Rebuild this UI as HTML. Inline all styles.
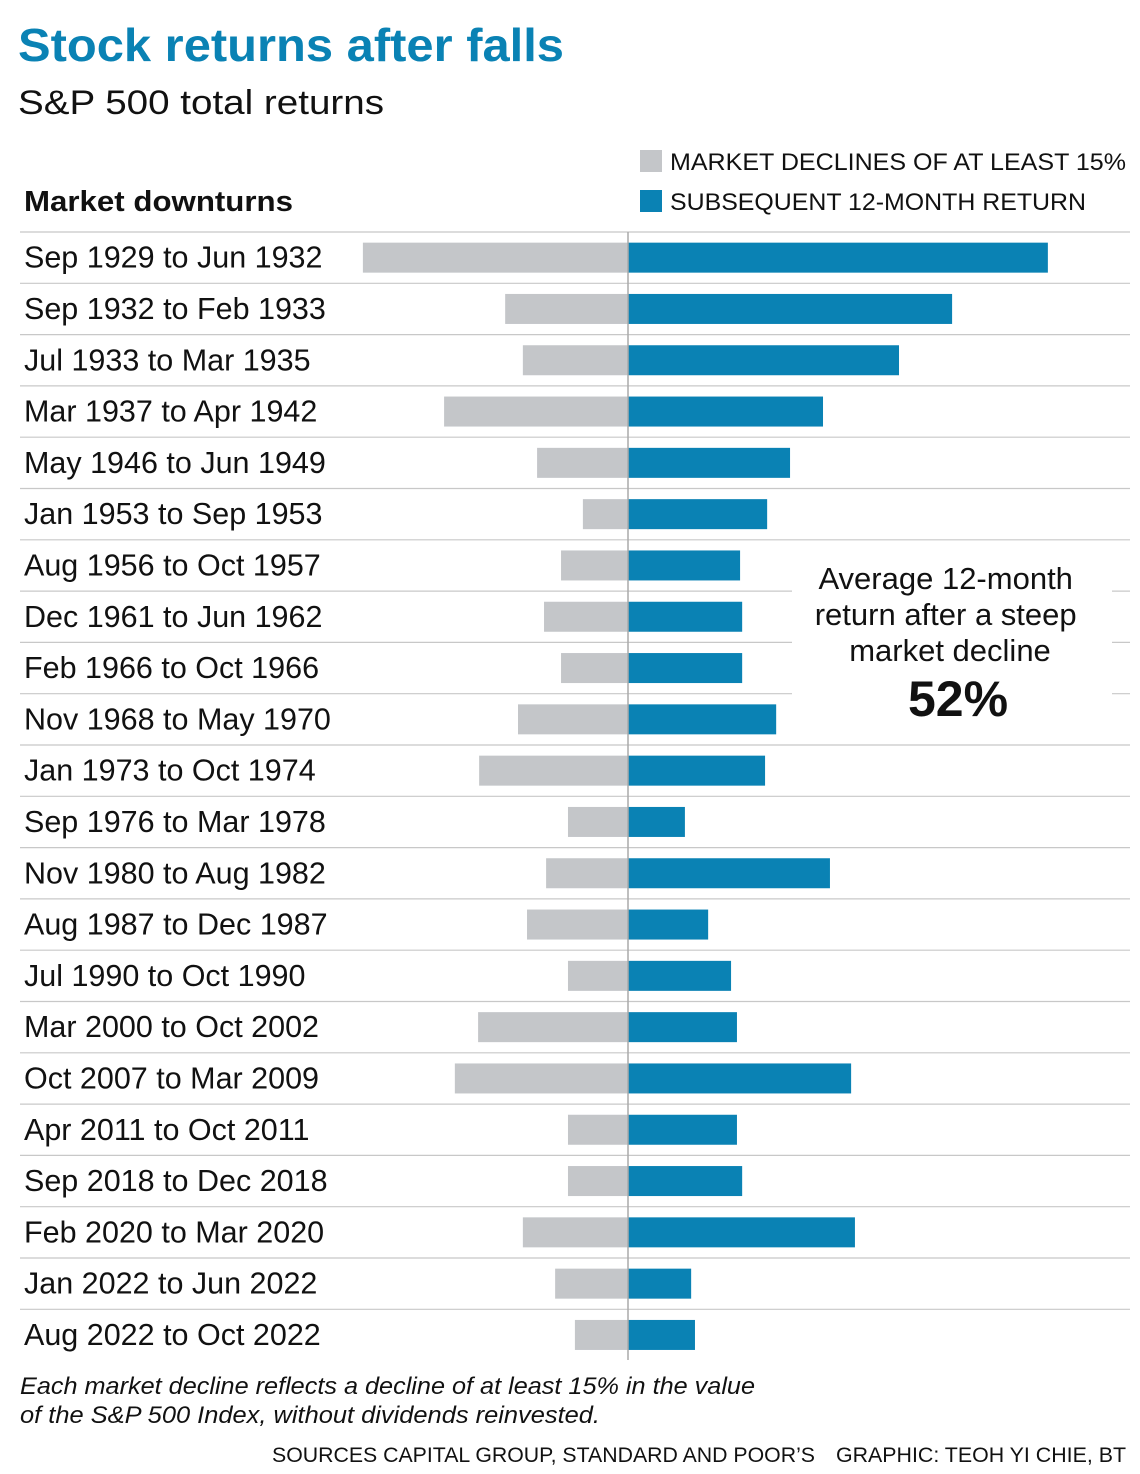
<!DOCTYPE html>
<html><head><meta charset="utf-8"><style>
html,body{margin:0;padding:0;background:#fff;}
svg{display:block;font-family:"Liberation Sans",sans-serif;}
</style></head><body>
<svg id="chart" width="1140" height="1474" viewBox="0 0 1140 1474" xmlns="http://www.w3.org/2000/svg">
<text x="18" y="61" font-size="46" font-weight="bold" fill="#0a82b4" textLength="546" lengthAdjust="spacingAndGlyphs">Stock returns after falls</text>
<text x="18" y="114" font-size="34" fill="#111" textLength="366" lengthAdjust="spacingAndGlyphs">S&amp;P 500 total returns</text>
<text x="24" y="211" font-size="29" font-weight="bold" fill="#111" textLength="269" lengthAdjust="spacingAndGlyphs">Market downturns</text>
<rect x="640" y="150" width="22" height="22" fill="#c4c6c9"/>
<text x="670" y="170" font-size="24" fill="#111" textLength="456" lengthAdjust="spacingAndGlyphs">MARKET DECLINES OF AT LEAST 15%</text>
<rect x="640" y="190" width="22" height="22" fill="#0a82b4"/>
<text x="670" y="210" font-size="24" fill="#111" textLength="416" lengthAdjust="spacingAndGlyphs">SUBSEQUENT 12-MONTH RETURN</text>
<g id="rows"></g>
<g id="bars"></g>
<line x1="628" y1="232" x2="628" y2="1360" stroke="#aaa" stroke-width="1.5"/>
<rect x="793" y="556" width="318" height="170" fill="#fff"/>
<text font-size="31" fill="#111" text-anchor="middle">
<tspan x="950" y="589">Average 12-month</tspan>
<tspan x="950" y="625">return after a steep</tspan>
<tspan x="950" y="661">market decline</tspan>
</text>
<text x="958" y="716" font-size="50" font-weight="bold" fill="#111" text-anchor="middle">52%</text>
<text font-size="24" font-style="italic" fill="#111">
<tspan x="20" y="1394" textLength="735" lengthAdjust="spacingAndGlyphs">Each market decline reflects a decline of at least 15% in the value</tspan>
<tspan x="20" y="1423" textLength="580" lengthAdjust="spacingAndGlyphs">of the S&amp;P 500 Index, without dividends reinvested.</tspan>
</text>
<text x="272" y="1462" font-size="21" fill="#111" textLength="543" lengthAdjust="spacingAndGlyphs">SOURCES CAPITAL GROUP, STANDARD AND POOR’S</text>
<text x="836" y="1462" font-size="21" fill="#111" textLength="290" lengthAdjust="spacingAndGlyphs">GRAPHIC: TEOH YI CHIE, BT</text>
</svg>
<script>
const categories = ["Sep 1929 to Jun 1932","Sep 1932 to Feb 1933","Jul 1933 to Mar 1935","Mar 1937 to Apr 1942","May 1946 to Jun 1949","Jan 1953 to Sep 1953","Aug 1956 to Oct 1957","Dec 1961 to Jun 1962","Feb 1966 to Oct 1966","Nov 1968 to May 1970","Jan 1973 to Oct 1974","Sep 1976 to Mar 1978","Nov 1980 to Aug 1982","Aug 1987 to Dec 1987","Jul 1990 to Oct 1990","Mar 2000 to Oct 2002","Oct 2007 to Mar 2009","Apr 2011 to Oct 2011","Sep 2018 to Dec 2018","Feb 2020 to Mar 2020","Jan 2022 to Jun 2022","Aug 2022 to Oct 2022"];
const declines = [76.4,35.4,30.3,53.0,26.2,13.0,19.3,24.2,19.3,31.7,42.9,17.3,23.6,29.1,17.3,43.2,49.9,17.3,17.3,30.3,21.0,15.3];
const returns12m = [121.0,93.4,78.1,56.2,46.7,40.1,32.3,32.9,32.9,42.7,39.5,16.4,58.2,23.1,29.7,31.4,64.3,31.4,32.9,65.4,18.2,19.3];
const NS="http://www.w3.org/2000/svg";
const x0=628, pxPer=3.47, top0=232, rowH=51.3, barH=30;
const xScale=v=>x0+v*pxPer;
const yRow=i=>top0+i*rowH;
const rows=document.getElementById('rows'), bars=document.getElementById('bars');
function mk(tag,attrs,parent){const e=document.createElementNS(NS,tag);for(const k in attrs)e.setAttribute(k,attrs[k]);parent.appendChild(e);return e;}
categories.forEach((c,i)=>{
  const y=yRow(i);
  let ln;
  if(i>=7&&i<=9){
    ln=mk('line',{x1:20,x2:792,y1:y,y2:y,stroke:'#c8c8c8','stroke-width':1.2},rows);
    
    
    const l2=mk('line',{x1:1112,x2:1130,y1:y,y2:y,stroke:'#c8c8c8','stroke-width':1.2},rows);
    
    
  } else {
    ln=mk('line',{x1:20,x2:1130,y1:y,y2:y,stroke:'#c8c8c8','stroke-width':1.2},rows);
    
    
  }
  const t=mk('text',{x:24,y:y+rowH/2+10,'font-size':30.5,fill:'#111'},rows);
  t.textContent=c;
  
  
  const by=y+rowH/2-barH/2;
  const g=mk('rect',{x:xScale(-declines[i]),y:by,width:declines[i]*pxPer,height:barH,fill:'#c4c6c9'},bars);
  
  
  const b=mk('rect',{x:x0,y:by,width:xScale(returns12m[i])-x0,height:barH,fill:'#0a82b4'},bars);
  
  
});
</script>
</body></html>
